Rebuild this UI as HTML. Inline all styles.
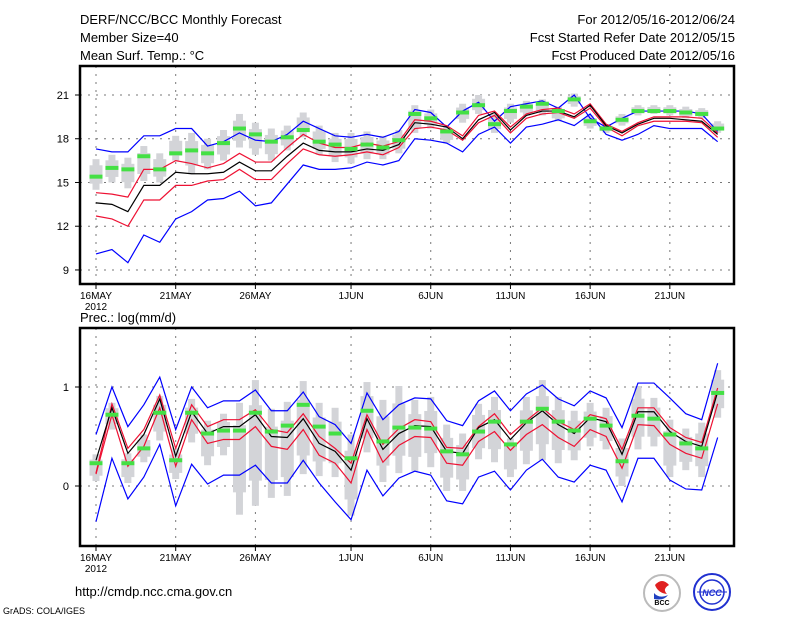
<!DOCTYPE html>
<html><head><meta charset="utf-8"><style>
body{margin:0;background:#fff;}
svg{display:block;font-family:"Liberation Sans",sans-serif;}
text{fill:#000;}
</style></head><body>
<svg id="chart" width="800" height="618" viewBox="0 0 800 618">
<g font-size="13">
<text x="80" y="24">DERF/NCC/BCC Monthly Forecast</text>
<text x="80" y="42">Member Size=40</text>
<text x="80" y="60">Mean Surf. Temp.: °C</text>
<text x="735" y="24" text-anchor="end">For 2012/05/16-2012/06/24</text>
<text x="735" y="42" text-anchor="end">Fcst Started Refer Date 2012/05/15</text>
<text x="735" y="60" text-anchor="end">Fcst Produced Date 2012/05/16</text>
</g>
<text x="80" y="322" font-size="13">Prec.: log(mm/d)</text>
<g id="top"></g>
<g id="bot"></g>
<text x="75" y="596" font-size="13">http://cmdp.ncc.cma.gov.cn</text>
<text x="3" y="614" font-size="9">GrADS: COLA/IGES</text>
<g>
<circle cx="662" cy="593" r="18" fill="#fff" stroke="#bbb" stroke-width="2"/>
<path d="M655 585 q7 -8 14 0 q-7 4 -2 9 q-9 -1 -12 -9z" fill="#e02020"/>
<path d="M654 593 q5 6 14 2 q-4 6 -14 4z" fill="#2040c0"/>
<text x="662" y="605" font-size="7" text-anchor="middle" font-weight="bold">BCC</text>
</g>
<g>
<circle cx="712" cy="592" r="18" fill="#fff" stroke="#2030d0" stroke-width="2"/>
<circle cx="712" cy="592" r="12" fill="none" stroke="#2030d0" stroke-width="1.5"/>
<line x1="697" y1="592" x2="727" y2="592" stroke="#2030d0"/>
<text x="712" y="596" font-size="9" text-anchor="middle" font-style="italic" font-weight="bold" style="fill:#2030d0">NCC</text>
</g>
</svg>
<script>
// ---- x categories ----
const dateLabels=["16MAY","21MAY","26MAY","1JUN","6JUN","11JUN","16JUN","21JUN"];
const dateIndex=[0,5,10,16,21,26,31,36];
// ---- temperature panel data ----
const tTicks=[9,12,15,18,21];
const tBlueHi=[17.3,17.1,17.1,18.2,18.2,18.7,18.7,17.5,17.8,18.4,17.9,17.8,18.3,19.2,18.7,18.2,18.1,18.3,18.1,18.5,20.0,19.8,18.8,19.9,20.5,19.2,20.2,20.4,20.6,20.1,21.0,19.4,18.8,19.4,19.9,19.9,19.9,19.9,19.7,18.5];
const tRedHi=[14.3,14.2,14.0,15.9,15.9,16.5,16.3,16.0,16.3,17.0,16.4,16.4,17.4,18.3,17.7,17.4,17.4,17.7,17.5,17.8,19.3,19.2,18.9,18.2,19.6,19.9,18.8,19.7,20.0,20.1,19.7,20.4,19.0,18.5,19.1,19.5,19.5,19.5,19.4,18.4];
const tMean=[13.6,13.5,13.0,14.8,14.8,15.7,15.6,15.6,15.7,16.4,15.8,15.8,16.8,17.7,17.2,17.1,17.1,17.3,17.2,17.6,19.1,19.0,18.8,18.0,19.3,19.8,18.6,19.6,19.9,19.9,19.5,20.3,18.9,18.4,19.0,19.4,19.4,19.3,19.2,18.3];
const tRedLo=[12.7,12.5,12.0,13.8,13.8,14.8,14.8,15.1,15.2,15.9,15.2,15.2,16.3,17.3,16.9,16.8,16.9,17.1,16.9,17.4,18.7,18.8,18.6,17.9,19.1,19.6,18.4,19.4,19.7,19.8,19.4,20.1,18.8,18.2,18.9,19.2,19.2,19.2,19.1,18.1];
const tBlueLo=[10.1,10.4,9.5,11.4,10.9,12.5,13.0,13.8,13.9,14.4,13.4,13.6,14.9,16.2,15.9,15.9,16.0,16.4,16.2,16.5,18.0,17.9,17.7,17.1,18.3,18.8,17.7,18.8,19.0,19.3,18.9,19.7,18.3,17.9,18.3,18.9,18.7,18.7,18.7,17.8];
const tObs=[15.4,16.0,15.9,16.8,15.9,17.0,17.2,17.0,17.7,18.7,18.3,17.8,18.1,18.6,17.8,17.6,17.3,17.6,17.4,17.9,19.7,19.4,18.5,19.8,20.3,19.0,19.9,20.2,20.4,19.9,20.7,19.2,18.7,19.3,19.9,19.9,19.9,19.8,19.7,18.7];
const tBoxMax=[16.6,16.9,16.7,17.5,17.0,18.2,18.4,18.0,18.6,19.7,19.1,18.7,18.9,19.8,18.9,18.4,18.4,18.5,18.2,18.6,20.3,20.0,18.8,20.4,21.0,19.7,20.4,20.6,20.7,20.2,21.1,19.6,19.0,19.7,20.3,20.3,20.3,20.2,20.1,19.2];
const tBoxMin=[14.5,15.0,14.6,15.1,15.0,16.5,15.6,15.9,16.5,17.4,16.9,16.5,17.2,18.1,16.9,16.4,16.3,16.6,16.6,17.0,18.4,18.7,17.7,19.1,19.7,18.4,19.1,19.6,19.6,19.2,20.2,18.7,18.4,18.9,19.6,19.7,19.6,19.4,19.4,18.4];
// ---- precipitation panel data ----
const pTicks=[0,1];
const pBlueHi=[0.52,1.00,0.60,0.82,1.10,0.57,1.00,0.79,0.86,0.86,0.97,0.76,0.76,0.95,0.70,0.62,0.43,0.94,0.67,0.82,0.89,0.88,0.66,0.61,0.86,0.96,0.76,0.93,1.02,0.88,0.81,0.96,0.89,0.59,1.04,1.04,0.89,0.73,0.67,1.24];
const pRedHi=[0.13,0.83,0.38,0.57,0.92,0.38,0.82,0.60,0.67,0.67,0.77,0.57,0.54,0.73,0.50,0.38,0.23,0.72,0.42,0.58,0.67,0.65,0.39,0.38,0.60,0.73,0.52,0.66,0.79,0.65,0.57,0.72,0.68,0.37,0.79,0.79,0.59,0.49,0.44,0.99];
const pMean=[0.26,0.79,0.33,0.52,0.88,0.30,0.75,0.53,0.60,0.60,0.72,0.50,0.49,0.68,0.43,0.35,0.16,0.68,0.37,0.53,0.61,0.60,0.35,0.33,0.59,0.67,0.47,0.64,0.76,0.62,0.53,0.69,0.65,0.32,0.75,0.75,0.55,0.45,0.40,0.95];
const pRedLo=[0.12,0.72,0.20,0.40,0.79,0.20,0.67,0.43,0.47,0.47,0.60,0.40,0.37,0.57,0.31,0.23,0.03,0.57,0.24,0.41,0.50,0.49,0.23,0.21,0.45,0.55,0.36,0.52,0.62,0.49,0.40,0.57,0.50,0.18,0.62,0.61,0.42,0.33,0.28,0.83];
const pBlueLo=[-0.36,0.28,-0.13,0.09,0.42,-0.20,0.22,0.02,0.11,0.11,0.21,0.03,0.03,0.26,0.03,-0.16,-0.34,0.16,-0.10,0.08,0.15,0.11,-0.15,-0.18,0.09,0.15,-0.04,0.16,0.27,0.09,0.04,0.21,0.16,-0.16,0.28,0.28,0.06,-0.03,-0.04,0.49];
const pObs=[0.23,0.72,0.23,0.38,0.74,0.26,0.74,0.53,0.56,0.56,0.74,0.55,0.61,0.82,0.60,0.53,0.28,0.76,0.45,0.59,0.59,0.58,0.35,0.32,0.55,0.65,0.42,0.65,0.78,0.65,0.56,0.68,0.61,0.25,0.71,0.68,0.52,0.43,0.38,0.94];
const pBoxMax=[0.32,0.84,0.33,0.52,0.91,0.38,0.88,0.66,0.73,0.84,1.07,0.78,0.85,1.06,0.84,0.79,0.52,1.05,0.87,1.01,0.87,0.90,0.62,0.53,0.83,0.90,0.48,0.90,1.07,0.90,0.76,0.84,0.79,0.48,1.01,0.89,0.67,0.58,0.64,1.17];
const pBoxMin=[0.05,0.57,0.03,0.24,0.46,0.07,0.44,0.21,0.31,-0.29,-0.20,-0.12,-0.10,0.12,0.10,0.09,-0.30,0.34,0.04,0.13,0.15,0.19,-0.05,-0.05,0.27,0.24,0.09,0.22,0.26,0.23,0.26,0.40,0.37,0.00,0.37,0.40,0.09,0.16,0.09,0.69];

const NS="http://www.w3.org/2000/svg";
function mk(parent,tag,attrs){const e=document.createElementNS(NS,tag);for(const k in attrs)e.setAttribute(k,attrs[k]);parent.appendChild(e);return e;}
const X0=80,X1=734;
function xS(i){return 96+i*15.94;}

function panel(g,top,bottom,yS,ticks,tickFmt,series,obs,bmax,bmin,pfx){
  ticks.forEach(t=>{
    const l=mk(g,'line',{x1:X0,x2:X1,y1:yS(t),y2:yS(t),stroke:'#777','stroke-dasharray':'2,6'});
    
    
    const tk=mk(g,'line',{x1:X0-5,x2:X0,y1:yS(t),y2:yS(t),stroke:'#000'});
    
    
    const tx=mk(g,'text',{x:X0-11,y:yS(t)+4,'text-anchor':'end','font-size':'11'});
    tx.textContent=tickFmt(t);
    
    
  });
  dateIndex.forEach((d,k)=>{
    const x=xS(d);
    const l=mk(g,'line',{x1:x,x2:x,y1:top,y2:bottom,stroke:'#777','stroke-dasharray':'2,6'});
    
    
    const tk=mk(g,'line',{x1:x,x2:x,y1:bottom,y2:bottom+5,stroke:'#000'});
    
    
    const tx=mk(g,'text',{x:x,y:bottom+15,'text-anchor':'middle','font-size':'10'});
    tx.textContent=dateLabels[k];
    
    
  });
  const yr=mk(g,'text',{x:xS(0),y:bottom+26,'text-anchor':'middle','font-size':'10'});
  yr.textContent='2012';
  
  
  bmax.forEach((v,i)=>{
    const a=yS(v),b=yS(bmin[i]),h=b-a;
    const w=mk(g,'rect',{x:xS(i)-3.5,y:a,width:7,height:h,fill:'#d3d4d8'});
    
    
    const bx=mk(g,'rect',{x:xS(i)-6.5,y:a+h*0.2,width:13,height:h*0.6,fill:'#d3d4d8'});
    
    
  });
  series.forEach(s=>{
    const p=mk(g,'polyline',{points:s.d.map((v,i)=>xS(i)+','+yS(v)).join(' '),fill:'none',stroke:s.c,'stroke-width':'1.2'});
    
    
  });
  obs.forEach((v,i)=>{
    const r=mk(g,'rect',{x:xS(i)-6.5,y:yS(v)-2,width:13,height:4,fill:'#44e044'});
    
    
  });
  const f=mk(g,'rect',{x:X0,y:top,width:X1-X0,height:bottom-top,fill:'none',stroke:'#000','stroke-width':'2.5'});
  
  
}
const yT=v=>95+(21-v)*14.58;
const yP=v=>486-v*99;
panel(document.getElementById('top'),66,284,yT,tTicks,t=>String(t),
 [{d:tBlueHi,c:'#0000ff',n:'blue-upper-line'},{d:tBlueLo,c:'#0000ff',n:'blue-lower-line'},{d:tRedHi,c:'#ee1133',n:'red-upper-line'},{d:tRedLo,c:'#ee1133',n:'red-lower-line'},{d:tMean,c:'#000',n:'mean-line'}],
 tObs,tBoxMax,tBoxMin,'temp');
panel(document.getElementById('bot'),328,546,yP,pTicks,t=>String(t),
 [{d:pBlueHi,c:'#0000ff',n:'blue-upper-line'},{d:pBlueLo,c:'#0000ff',n:'blue-lower-line'},{d:pRedHi,c:'#ee1133',n:'red-upper-line'},{d:pRedLo,c:'#ee1133',n:'red-lower-line'},{d:pMean,c:'#000',n:'mean-line'}],
 pObs,pBoxMax,pBoxMin,'precip');
</script>
</body></html>
